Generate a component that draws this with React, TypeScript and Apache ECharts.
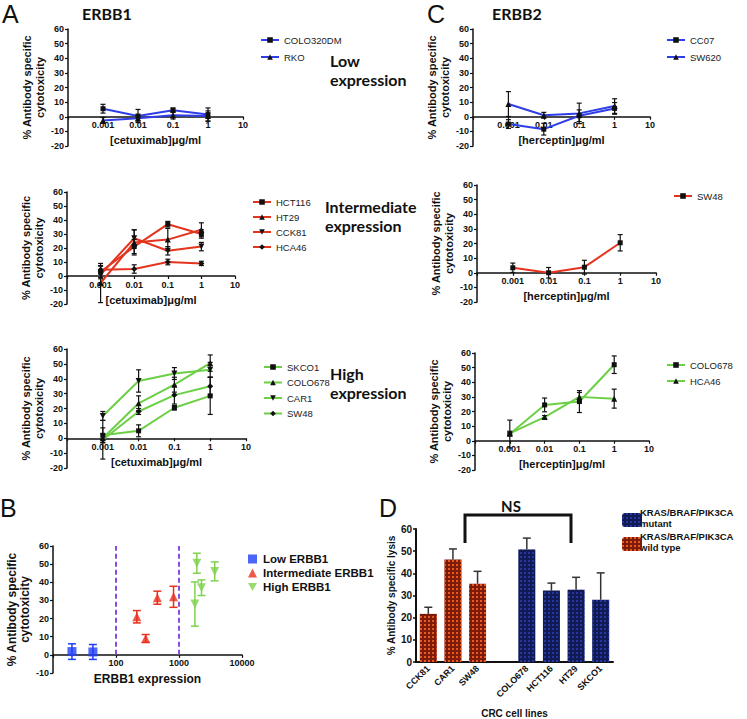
import React, { useEffect, useRef } from 'react';
import * as echarts from 'echarts';

// ---------- data ----------
const concentrations = [0.001, 0.01, 0.1, 1];
const logTickLabels = ['0.001', '0.01', '0.1', '1', '10'];

// Panel A (ERBB1, cetuximab)
const aLowLines = ['COLO320DM', 'RKO'];
const aLowMean = [[5.5, 0.5, 4.5, 1.5], [-2.5, -1, 1, 0.5]];
const aLowErr = [[3, 4.5, 1.5, 4.5], [2, 2, 2.5, 3.5]];

const aMidLines = ['HCT116', 'HT29', 'CCK81', 'HCA46'];
const aMidMean = [[3, 21, 37, 30], [-5, 24, 26, 33], [1, 27, 18, 21], [4.5, 5, 10, 9]];
const aMidErr = [[4, 5, 2, 3], [14, 9, 8, 5], [3, 6, 3, 3], [3, 3, 2, 1.5]];

const aHighLines = ['SKCO1', 'COLO678', 'CAR1', 'SW48'];
const aHighMean = [[2, 5, 20.5, 28.5], [0, 23.5, 36, 50.5], [15, 38.5, 43.5, 46], [-1, 18, 29, 35]];
const aHighErr = [[5, 4, 1.5, 12.5], [3, 5, 5, 5.5], [3, 7.5, 4, 5], [13, 2, 6, 6]];

// Panel C (ERBB2, herceptin)
const cLowLines = ['CC07', 'SW620'];
const cLowMean = [[-5, -8.5, 0.7, 5.7], [8.7, 1, 2.3, 7.3]];
const cLowErr = [[3, 4, 4, 4], [8.5, 2, 7, 5]];

const cMidLines = ['SW48'];
const cMidMean = [[3.4, 0, 3.8, 20.5]];
const cMidErr = [[3.2, 3.6, 4.7, 5.6]];

const cHighLines = ['COLO678', 'HCA46'];
const cHighMean = [[4.6, 24.5, 26.8, 52], [5, 16.2, 30, 28.8]];
const cHighErr = [[9.5, 4.7, 7.5, 6], [1.5, 1, 3, 6.5]];

// Panel B
const bGroups = ['Low ERBB1', 'Intermediate ERBB1', 'High ERBB1'];
const bExpression = [[20, 43], [214, 296, 453, 819], [1920, 3690, 2275, 1787]];
const bMean = [[1.8, 1.6], [21, 9, 31.5, 32], [50.5, 46, 37, 28]];
const bErr = [[4.3, 4.1], [3.4, 2.2, 3.6, 5.8], [5.5, 5.2, 4.3, 12.2]];
const bThresholds = [100, 1000];

// Panel D
const dCellLines = ['CCK81', 'CAR1', 'SW48', '', 'COLO678', 'HCT116', 'HT29', 'SKCO1'];
const dWildType = [21.7, 46.2, 35.3, null, null, null, null, null];
const dMutant = [null, null, null, null, 50.7, 32.2, 32.6, 28.1];
const dErr = [3, 4.8, 5.6, null, 5.2, 3.4, 5.6, 12.1];
const dGroupLabels = ['KRAS/BRAF/PIK3CA\nmutant', 'KRAS/BRAF/PIK3CA\nwild type'];

// ---------- styles ----------
const BLUE = '#2f3ee6';
const RED = '#e5341d';
const GREEN = '#6ccf45';
const FONT = 'Liberation Sans';
const HEAD = 'Lato';
const DOWN_TRI = 'path://M0,0L10,0L5,9Z';
const SYM = ['rect', 'triangle', DOWN_TRI, 'diamond'];
const lg = (v: number) => Math.log10(v);
// offset that puts a bottom x axis on the y = 0 line of its grid
const zeroOffset = (height: number, yMin: number, yMax: number) => -height * (0 - yMin) / (yMax - yMin);

function errorBar(color: string, cap: number, lw: number, upOnly = false) {
  return (_p: any, api: any) => {
    const x = api.value(0);
    const lo = api.value(1);
    const hi = api.value(2);
    const a = api.coord([x, lo]);
    const b = api.coord([x, hi]);
    const st = { stroke: color, lineWidth: lw };
    const ch: any[] = [
      { type: 'line', shape: { x1: b[0], y1: b[1], x2: a[0], y2: a[1] }, style: st },
      { type: 'line', shape: { x1: b[0] - cap, y1: b[1], x2: b[0] + cap, y2: b[1] }, style: st },
    ];
    if (!upOnly) ch.push({ type: 'line', shape: { x1: a[0] - cap, y1: a[1], x2: a[0] + cap, y2: a[1] }, style: st });
    return { type: 'group', children: ch };
  };
}

const linePanels = [
  { id: 'A1', lines: aLowLines, mean: aLowMean, err: aLowErr, color: BLUE, grid: [68, 29, 175, 117], xName: '[cetuximab]μg/ml', leg: [255, 30, 7] },
  { id: 'A2', lines: aMidLines, mean: aMidMean, err: aMidErr, color: RED, grid: [67, 192, 168, 112], xName: '[cetuximab]μg/ml', leg: [247, 192, 5] },
  { id: 'A3', lines: aHighLines, mean: aHighMean, err: aHighErr, color: GREEN, grid: [67, 349, 179, 119], xName: '[cetuximab]μg/ml', leg: [258, 357, 5.5] },
  { id: 'C1', lines: cLowLines, mean: cLowMean, err: cLowErr, color: BLUE, grid: [473, 29, 177, 117], xName: '[herceptin]μg/ml', leg: [661, 30, 7] },
  { id: 'C2', lines: cMidLines, mean: cMidMean, err: cMidErr, color: RED, grid: [477, 185, 179, 117], xName: '[herceptin]μg/ml', leg: [668, 186, 5] },
  { id: 'C3', lines: cHighLines, mean: cHighMean, err: cHighErr, color: GREEN, grid: [475, 353, 174, 117], xName: '[herceptin]μg/ml', leg: [661, 355, 6] },
];

const axisLineStyle = { color: '#111', width: 1.5 };

function buildOption() {
  const grid: any[] = [];
  const xAxis: any[] = [];
  const yAxis: any[] = [];
  const series: any[] = [];
  const legend: any[] = [];

  linePanels.forEach((p, i) => {
    grid.push({ left: p.grid[0], top: p.grid[1], width: p.grid[2], height: p.grid[3] });
    // x axis: log10 of concentration on a value scale (decades 1e-4 .. 1e1)
    xAxis.push({
      gridIndex: i, type: 'value', min: -4, max: 1, interval: 1, position: 'bottom',
      offset: zeroOffset(p.grid[3], -20, 60),
      name: p.xName, nameLocation: 'middle', nameGap: 18,
      nameTextStyle: { fontSize: 11, fontWeight: 'bold', color: '#111', fontFamily: FONT },
      axisLine: { show: true, onZero: false, lineStyle: axisLineStyle },
      axisTick: { show: true, length: 3, lineStyle: { color: '#111', width: 1.2 } },
      axisLabel: {
        fontSize: 9, fontWeight: 'bold', color: '#111', margin: 4, fontFamily: FONT,
        formatter: (v: number) => (v < -3.5 ? '' : logTickLabels[Math.round(v) + 3]),
      },
      splitLine: { show: false },
    });
    yAxis.push({
      gridIndex: i, type: 'value', min: -20, max: 60, interval: 10,
      name: '% Antibody specific\ncytotoxicity', nameLocation: 'middle', nameRotate: 90, nameGap: 22,
      nameTextStyle: { fontSize: 11, fontWeight: 'bold', color: '#111', lineHeight: 13, fontFamily: FONT },
      axisLine: { show: true, onZero: false, lineStyle: axisLineStyle },
      axisTick: { show: true, length: 3, lineStyle: { color: '#111', width: 1.2 } },
      axisLabel: { fontSize: 9, fontWeight: 'bold', color: '#111', margin: 4, fontFamily: FONT },
      splitLine: { show: false },
    });
    p.lines.forEach((name, k) => {
      series.push({
        type: 'line', name: p.id + '|' + name, xAxisIndex: i, yAxisIndex: i,
        data: concentrations.map((c, j) => [lg(c), p.mean[k][j]]),
        symbol: SYM[k], symbolSize: k === 0 ? 5 : 6,
        itemStyle: { color: '#111' }, lineStyle: { color: p.color, width: 2 }, z: 3,
      });
      series.push({
        type: 'custom', name: p.id + '|' + name + '|err', xAxisIndex: i, yAxisIndex: i,
        data: concentrations.map((c, j) => [lg(c), p.mean[k][j] - p.err[k][j], p.mean[k][j] + p.err[k][j]]),
        renderItem: errorBar('#111', 2.5, 1.2), z: 4, silent: true,
      });
    });
    legend.push({
      data: p.lines.map((n) => p.id + '|' + n), orient: 'vertical',
      left: p.leg[0], top: p.leg[1], itemGap: p.leg[2], itemWidth: 18, itemHeight: 7,
      selectedMode: false, formatter: (n: string) => n.split('|')[1],
      textStyle: { fontSize: 9.5, color: '#222', fontFamily: FONT },
    });
  });

  // ---- Panel B ----
  const bi = linePanels.length;
  const bColors = ['#1f3ff5', '#e8301a', '#7fd14f'];
  const bSym = ['rect', 'triangle', DOWN_TRI];
  const bGrid = [53, 546, 189, 127];
  grid.push({ left: bGrid[0], top: bGrid[1], width: bGrid[2], height: bGrid[3] });
  xAxis.push({
    gridIndex: bi, type: 'value', min: 1, max: 4, interval: 1, position: 'bottom',
    offset: zeroOffset(bGrid[3], -10, 60),
    name: 'ERBB1 expression', nameLocation: 'middle', nameGap: 18,
    nameTextStyle: { fontSize: 12, fontWeight: 'bold', color: '#111', fontFamily: FONT },
    axisLine: { show: true, onZero: false, lineStyle: axisLineStyle },
    axisTick: { show: true, length: 3, lineStyle: { color: '#111', width: 1.2 } },
    axisLabel: {
      fontSize: 9, fontWeight: 'bold', color: '#111', margin: 4, fontFamily: FONT,
      formatter: (v: number) => (v < 1.5 ? '' : String(Math.round(Math.pow(10, v)))),
    },
    splitLine: { show: false },
  });
  yAxis.push({
    gridIndex: bi, type: 'value', min: -10, max: 60, interval: 10,
    name: '% Antibody specific\ncytotoxicity', nameLocation: 'middle', nameRotate: 90, nameGap: 22,
    nameTextStyle: { fontSize: 12, fontWeight: 'bold', color: '#111', lineHeight: 13, fontFamily: FONT },
    axisLine: { show: true, onZero: false, lineStyle: axisLineStyle },
    axisTick: { show: true, length: 3, lineStyle: { color: '#111', width: 1.2 } },
    axisLabel: { fontSize: 9, fontWeight: 'bold', color: '#111', margin: 4, fontFamily: FONT },
    splitLine: { show: false },
  });
  bGroups.forEach((g, k) => {
    const s: any = {
      type: 'scatter', name: g, xAxisIndex: bi, yAxisIndex: bi,
      data: bExpression[k].map((x, j) => [lg(x), bMean[k][j]]),
      symbol: bSym[k], symbolSize: 9, itemStyle: { color: bColors[k] }, z: 4,
    };
    if (k === 0) {
      s.markLine = {
        silent: true, symbol: 'none', label: { show: false },
        lineStyle: { type: [5, 3], color: '#8c4fd8', width: 2 },
        data: bThresholds.map((t) => [{ coord: [lg(t), 0] }, { coord: [lg(t), 60] }]),
      };
    }
    series.push(s);
    series.push({
      type: 'custom', name: g + '|err', xAxisIndex: bi, yAxisIndex: bi,
      data: bExpression[k].map((x, j) => [lg(x), bMean[k][j] - bErr[k][j], bMean[k][j] + bErr[k][j]]),
      renderItem: errorBar(bColors[k], 4, 1.5), z: 3, silent: true,
    });
  });
  legend.push({
    data: bGroups, orient: 'vertical', left: 243, top: 548, itemGap: 2,
    itemWidth: 9, itemHeight: 9, selectedMode: false,
    textStyle: { fontSize: 11.5, fontWeight: 'bold', color: '#111', fontFamily: FONT, padding: [0, 0, 0, 1] },
  });

  // ---- Panel D ----
  const di = bi + 1;
  grid.push({ left: 416, top: 529, width: 197, height: 133 });
  xAxis.push({
    gridIndex: di, type: 'category', data: dCellLines,
    name: 'CRC cell lines', nameLocation: 'middle', nameGap: 46,
    nameTextStyle: { fontSize: 10, fontWeight: 'bold', color: '#111', fontFamily: FONT },
    axisLine: { lineStyle: { color: '#111', width: 2 } },
    axisTick: { show: false },
    axisLabel: { interval: 0, rotate: 45, fontSize: 9, fontWeight: 'bold', color: '#111', margin: 5, fontFamily: FONT },
  });
  yAxis.push({
    gridIndex: di, type: 'value', min: 0, max: 60, interval: 10,
    name: '% Antibody specific lysis', nameLocation: 'middle', nameRotate: 90, nameGap: 20,
    nameTextStyle: { fontSize: 10, fontWeight: 'bold', color: '#111', fontFamily: FONT },
    axisLine: { show: true, onZero: false, lineStyle: { color: '#111', width: 2 } },
    axisTick: { show: true, length: 3, lineStyle: { color: '#111', width: 1.5 } },
    axisLabel: { fontSize: 10, fontWeight: 'bold', color: '#111', margin: 4, fontFamily: FONT },
    splitLine: { show: false },
  });
  const mutantDecal = { symbol: 'rect', symbolSize: 1, color: 'rgba(45,65,190,0.7)', dashArrayX: [2, 2], dashArrayY: [2, 2] };
  const wildDecal = { symbol: 'rect', symbolSize: 1, color: 'rgba(250,100,35,0.85)', dashArrayX: [2, 2], dashArrayY: [2, 2] };
  series.push({
    type: 'bar', name: 'KRAS/BRAF/PIK3CA mutant', xAxisIndex: di, yAxisIndex: di,
    data: dMutant, barWidth: 17, barGap: '-100%',
    itemStyle: { color: '#121a55', decal: mutantDecal },
  });
  series.push({
    type: 'bar', name: 'KRAS/BRAF/PIK3CA wild type', xAxisIndex: di, yAxisIndex: di,
    data: dWildType, barWidth: 17, barGap: '-100%',
    itemStyle: { color: '#7d1b0a', decal: wildDecal },
  });
  const dErrData: any[] = [];
  dCellLines.forEach((_c, j) => {
    const v = dWildType[j] ?? dMutant[j];
    const e = dErr[j];
    if (v != null && e != null) dErrData.push([j, v, v + e]);
  });
  series.push({
    type: 'custom', name: 'D|err', xAxisIndex: di, yAxisIndex: di,
    data: dErrData, renderItem: errorBar('#333', 4, 1.5, true), z: 1, silent: true,
  });
  // legend swatches only; the two-line labels are drawn as text beside them
  legend.push({
    data: ['KRAS/BRAF/PIK3CA mutant', 'KRAS/BRAF/PIK3CA wild type'], orient: 'vertical',
    left: 617, top: 508, itemGap: 10, itemWidth: 20, itemHeight: 14, selectedMode: false,
    formatter: () => ' ',
    textStyle: { fontSize: 9, color: '#111' },
  });

  const txt = (text: string, x: number, y: number, font: string, align = 'left', lineHeight?: number) => ({
    type: 'text', x, y, silent: true,
    style: { text, font, fill: '#111', textAlign: align, textVerticalAlign: 'top', lineHeight },
  });
  const mid = (text: string, x: number, y: number, font: string, align = 'left', lineHeight?: number) => ({
    type: 'text', x, y, silent: true,
    style: { text, font, fill: '#111', textAlign: align, textVerticalAlign: 'middle', lineHeight },
  });
  const head = `bold 16px ${HEAD}`;
  const graphic: any[] = [
    mid('A', 2, 14, `25px ${FONT}`),
    mid('ERBB1', 82, 13, head),
    mid('Low\nexpression', 330, 70, head, 'left', 19),
    mid('Intermediate\nexpression', 325, 216, head, 'left', 19),
    mid('High\nexpression', 330, 383, head, 'left', 19),
    mid('C', 427, 14, `25px ${FONT}`),
    mid('ERBB2', 492, 13, head),
    mid('B', 0, 508, `25px ${FONT}`),
    mid('D', 379, 508, `25px ${FONT}`),
    mid('NS', 511, 506, `bold 15px ${HEAD}`, 'center'),
    txt(dGroupLabels[0], 640, 506.5, `bold 9.5px ${FONT}`, 'left', 11.5),
    txt(dGroupLabels[1], 640, 530.5, `bold 9.5px ${FONT}`, 'left', 11.5),
    {
      type: 'polyline', silent: true,
      shape: { points: [[465, 543], [465, 515], [571, 515], [571, 543]] },
      style: { stroke: '#111', lineWidth: 3, fill: null },
    },
  ];

  return {
    animation: false,
    textStyle: { fontFamily: FONT },
    grid, xAxis, yAxis, series, legend, graphic,
  };
}

export default function App() {
  const ref = useRef<HTMLDivElement>(null);
  useEffect(() => {
    if (!ref.current) return;
    const chart = echarts.init(ref.current, undefined, { renderer: 'svg' });
    chart.setOption(buildOption() as any);
    return () => chart.dispose();
  }, []);
  return <div ref={ref} style={{ position: 'absolute', left: 0, top: 0, width: 747, height: 719, background: '#fff' }} />;
}
